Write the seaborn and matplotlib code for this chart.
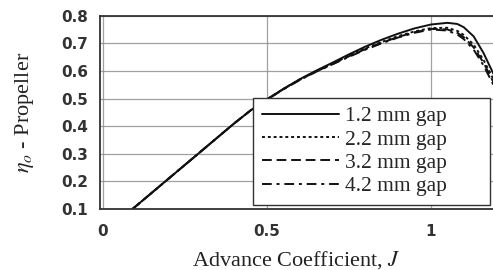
import matplotlib
matplotlib.use('Agg')
import matplotlib.pyplot as plt
import seaborn as sns
import pandas as pd

# advance coefficient J and propeller efficiency for each tip gap
J = [0.09, 0.2, 0.3, 0.4, 0.45, 0.5, 0.55, 0.6, 0.65, 0.7, 0.75, 0.8, 0.85,
     0.9, 0.95, 1.0, 1.05, 1.08, 1.1, 1.13, 1.16, 1.19]
eta_12 = [0.10, 0.21, 0.31, 0.41, 0.457, 0.497, 0.535, 0.570, 0.601, 0.630, 0.660,
          0.688, 0.713, 0.735, 0.754, 0.768, 0.774, 0.770, 0.758, 0.725, 0.665, 0.590]
eta_22 = [0.10, 0.21, 0.31, 0.41, 0.457, 0.497, 0.535, 0.569, 0.599, 0.627, 0.655,
          0.682, 0.705, 0.726, 0.743, 0.755, 0.756, 0.745, 0.730, 0.695, 0.640, 0.570]
eta_32 = [0.10, 0.21, 0.31, 0.41, 0.457, 0.497, 0.534, 0.568, 0.598, 0.625, 0.653,
          0.679, 0.702, 0.723, 0.740, 0.752, 0.750, 0.738, 0.722, 0.685, 0.630, 0.560]
eta_42 = [0.10, 0.21, 0.31, 0.41, 0.457, 0.496, 0.533, 0.567, 0.597, 0.624, 0.651,
          0.677, 0.700, 0.721, 0.738, 0.750, 0.746, 0.732, 0.715, 0.677, 0.620, 0.550]
gaps = ['1.2 mm gap', '2.2 mm gap', '3.2 mm gap', '4.2 mm gap']

rows = []
for g, vals in zip(gaps, [eta_12, eta_22, eta_32, eta_42]):
    for j, e in zip(J, vals):
        rows.append({'J': j, 'eta': e, 'gap': g})
df = pd.DataFrame(rows)

sns.set_style('white')
plt.rcParams['mathtext.fontset'] = 'stix'
fig = plt.figure(figsize=(4.93, 2.70), dpi=100)
ax = fig.add_axes([0.203, 0.226, 0.797, 0.716])

sns.lineplot(data=df, x='J', y='eta', style='gap', hue='gap',
             palette=['#111111'] * 4,
             dashes=['', (1.5, 1.5), (5, 2.5), (5, 2.5, 1.5, 2.5)],
             linewidth=1.4, ax=ax, legend=True)

ax.set_xlim(-0.009, 1.189)
ax.set_ylim(0.1, 0.8)
ax.set_xticks([0, 0.5, 1])
ax.set_xticklabels(['0', '0.5', '1'])
ax.set_yticks([0.1, 0.2, 0.3, 0.4, 0.5, 0.6, 0.7, 0.8])
ax.set_yticklabels(['0.1', '0.2', '0.3', '0.4', '0.5', '0.6', '0.7', '0.8'])
ax.grid(True, color='#8a8a8a', linewidth=0.9, alpha=0.8)
for lab in ax.get_xticklabels() + ax.get_yticklabels():
    lab.set_fontfamily('DejaVu Sans')
    lab.set_fontweight('bold')
    lab.set_fontsize(11)
    lab.set_color('#333333')
ax.tick_params(axis='both', direction='out', length=3, width=1, color='#333333')
ax.tick_params(axis='y', pad=5.5)
ax.tick_params(axis='x', pad=8)

ax.spines['right'].set_visible(False)
for s in ['left', 'bottom', 'top']:
    ax.spines[s].set_color('#333333')
    ax.spines[s].set_linewidth(1.3)

ax.set_xlabel('Advance Coefficient, $J$', family='Liberation Serif', fontsize=16,
              color='#222222', labelpad=7)
ax.set_ylabel(r'$\eta_o$ - Propeller', family='Liberation Serif', fontsize=16,
              color='#222222')
ax.yaxis.set_label_coords(-0.163, 0.5)

leg = ax.legend(loc='lower left', bbox_to_anchor=(0.389, 0.021, 0.603, 0.553),
                mode='expand', frameon=True,
                fancybox=False, edgecolor='#333333', framealpha=1,
                prop={'family': 'Liberation Serif', 'size': 15.5},
                handlelength=3.6, handletextpad=0.3, labelspacing=0.15,
                borderpad=0.4, borderaxespad=0)
leg.get_frame().set_linewidth(1.0)

fig.savefig('out.png', dpi=100)
